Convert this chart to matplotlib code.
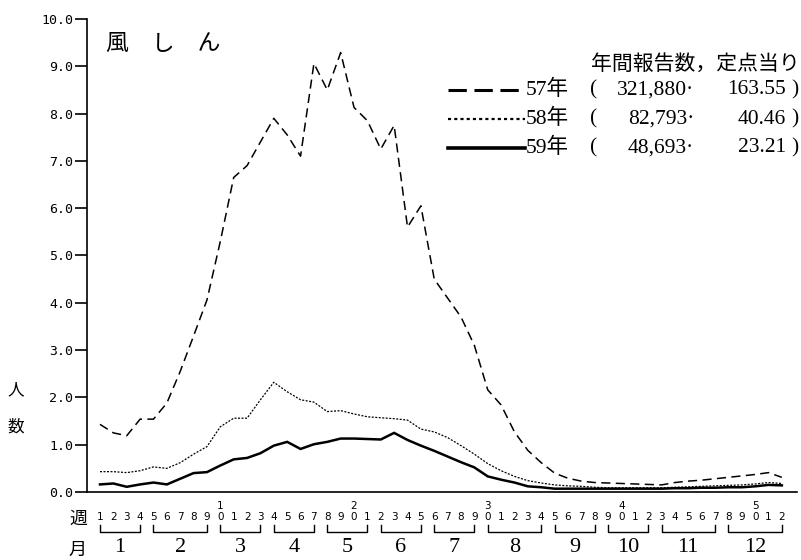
import matplotlib
matplotlib.use('Agg')
import matplotlib.pyplot as plt
from matplotlib.lines import Line2D

# ---------------- data ----------------
weeks = list(range(1, 53))
s57 = [1.43, 1.25, 1.19, 1.54, 1.54, 1.88, 2.55, 3.30, 4.06, 5.30,
       6.65, 6.90, 7.40, 7.90, 7.55, 7.10, 9.06, 8.50, 9.29, 8.13,
       7.85, 7.25, 7.75, 5.60, 6.05, 4.50, 4.10, 3.70, 3.10, 2.16,
       1.84, 1.27, 0.88, 0.62, 0.40, 0.29, 0.23, 0.20, 0.19, 0.18,
       0.17, 0.16, 0.15, 0.20, 0.23, 0.25, 0.28, 0.31, 0.34, 0.37,
       0.41, 0.31]
s58 = [0.43, 0.43, 0.41, 0.45, 0.53, 0.50, 0.62, 0.80, 0.96, 1.38,
       1.56, 1.56, 1.95, 2.32, 2.12, 1.95, 1.90, 1.70, 1.72, 1.65,
       1.59, 1.57, 1.55, 1.52, 1.33, 1.27, 1.15, 0.98, 0.80, 0.60,
       0.45, 0.33, 0.24, 0.19, 0.15, 0.13, 0.12, 0.10, 0.09, 0.09,
       0.09, 0.09, 0.09, 0.10, 0.11, 0.12, 0.13, 0.14, 0.15, 0.17,
       0.20, 0.18]
s59 = [0.16, 0.18, 0.11, 0.16, 0.20, 0.16, 0.28, 0.40, 0.42, 0.56,
       0.69, 0.72, 0.82, 0.98, 1.06, 0.91, 1.01, 1.06, 1.13, 1.13,
       1.12, 1.11, 1.25, 1.10, 0.98, 0.87, 0.75, 0.63, 0.52, 0.33,
       0.26, 0.20, 0.12, 0.10, 0.07, 0.07, 0.07, 0.07, 0.07, 0.07,
       0.07, 0.07, 0.07, 0.08, 0.08, 0.09, 0.09, 0.10, 0.10, 0.12,
       0.15, 0.14]
yticks = [0, 1, 2, 3, 4, 5, 6, 7, 8, 9, 10]
month_labels = [str(m) for m in range(1, 13)]
month_start = [1, 5, 10, 14, 18, 22, 26, 30, 35, 39, 43, 48]
month_end = [4, 9, 13, 17, 21, 25, 29, 34, 38, 42, 47, 52]
legend_years = ['57年', '58年', '59年']
legend_counts = ['321,880·', '82,793·', '48,693·']
legend_rates = ['163.55', '40.46', '23.21']
title = '風　し　ん'
legend_title = '年間報告数，定点当り'

# ---------------- figure ----------------
W, H = 801, 560
fig = plt.figure(figsize=(W / 100, H / 100), dpi=100)
ax_l, ax_r, ax_t, ax_b = 87, 797, 19, 492
ax = fig.add_axes([ax_l / W, 1 - ax_b / H, (ax_r - ax_l) / W, (ax_b - ax_t) / H])
AH = ax_b - ax_t

def fx(px):
    return px / W

def fy(py):
    return 1 - py / H

CJK = ['Noto Sans CJK JP', 'DejaVu Sans']
SER = ['Liberation Serif', 'Noto Sans CJK JP']

styles = [
    dict(color='black', lw=1.1, dashes=(6, 3.5)),
    dict(color='black', lw=0.9, dashes=(1.6, 1.2)),
    dict(color='black', lw=1.8, linestyle='-'),
]
for ser, st in zip([s57, s58, s59], styles):
    ax.plot(weeks, ser, solid_joinstyle='miter', **st)

ax.set_xlim(1 - 13 / 13.37, 1 + (ax_r - 100) / 13.37)
ax.set_ylim(0, 10)
for s in ['top', 'right']:
    ax.spines[s].set_visible(False)
ax.spines['left'].set_linewidth(1.2)
ax.spines['bottom'].set_linewidth(1.2)
ax.set_xticks([])
ax.set_yticks(yticks)
ax.set_yticklabels([f'{v:.1f}' for v in yticks], fontfamily='DejaVu Sans Mono', fontsize=9.5)
ax.tick_params(axis='y', length=9, width=1.2, pad=1, direction='out')

# week labels
xt = ax.get_xaxis_transform()
for w in weeks:
    ax.text(w, -25 / AH, str(w % 10), transform=xt, ha='center', va='center',
            fontsize=7.5, clip_on=False)
    if w % 10 == 0:
        ax.text(w, -14 / AH, str(w // 10), transform=xt, ha='center', va='center',
                fontsize=7.5, clip_on=False)

# month brackets
for lab, a, b in zip(month_labels, month_start, month_end):
    ax.plot([a, a, b, b], [-33 / AH, -40 / AH, -40 / AH, -33 / AH], transform=xt,
            color='black', lw=1.0, clip_on=False)
    ax.text((a + b) / 2, -55 / AH, lab, transform=xt, ha='center', va='center',
            fontsize=16, fontfamily=SER, clip_on=False)

# side labels
fig.text(fx(78), fy(519), '週', fontsize=13, fontfamily=CJK, ha='center', va='center')
fig.text(fx(77), fy(550), '月', fontsize=13, fontfamily=CJK, ha='center', va='center')
fig.text(fx(16), fy(390), '人', fontsize=12, fontfamily=CJK, ha='center', va='center')
fig.text(fx(16), fy(427), '数', fontsize=12, fontfamily=CJK, ha='center', va='center')

# title
fig.text(fx(106), fy(43), title, fontsize=16.5, fontfamily=CJK, ha='left', va='center')

# legend
fig.text(fx(800), fy(64), legend_title, fontsize=15, fontfamily=CJK, ha='right', va='center')
rows_y = [90, 119, 148]
leg_styles = [
    dict(color='black', lw=2.2, dashes=(6, 2.5)),
    dict(color='black', lw=1.6, dashes=(1.4, 1.4)),
    dict(color='black', lw=2.6, linestyle='-'),
]
for yy, yr, cnt, rt, st in zip(rows_y, legend_years, legend_counts, legend_rates, leg_styles):
    fig.add_artist(Line2D([fx(448), fx(525)], [fy(yy), fy(yy)], transform=fig.transFigure, **st))
    fig.text(fx(526), fy(yy), yr, fontsize=15.5, fontfamily=SER, ha='left', va='center')
    fig.text(fx(590), fy(yy), '(', fontsize=15.5, fontfamily=SER, ha='left', va='center')
    fig.text(fx(694), fy(yy), cnt, fontsize=15.5, fontfamily=SER, ha='right', va='center')
    fig.text(fx(786), fy(yy), rt, fontsize=15.5, fontfamily=SER, ha='right', va='center')
    fig.text(fx(791), fy(yy), ')', fontsize=15.5, fontfamily=SER, ha='left', va='center')

fig.savefig('out.png', dpi=100)
